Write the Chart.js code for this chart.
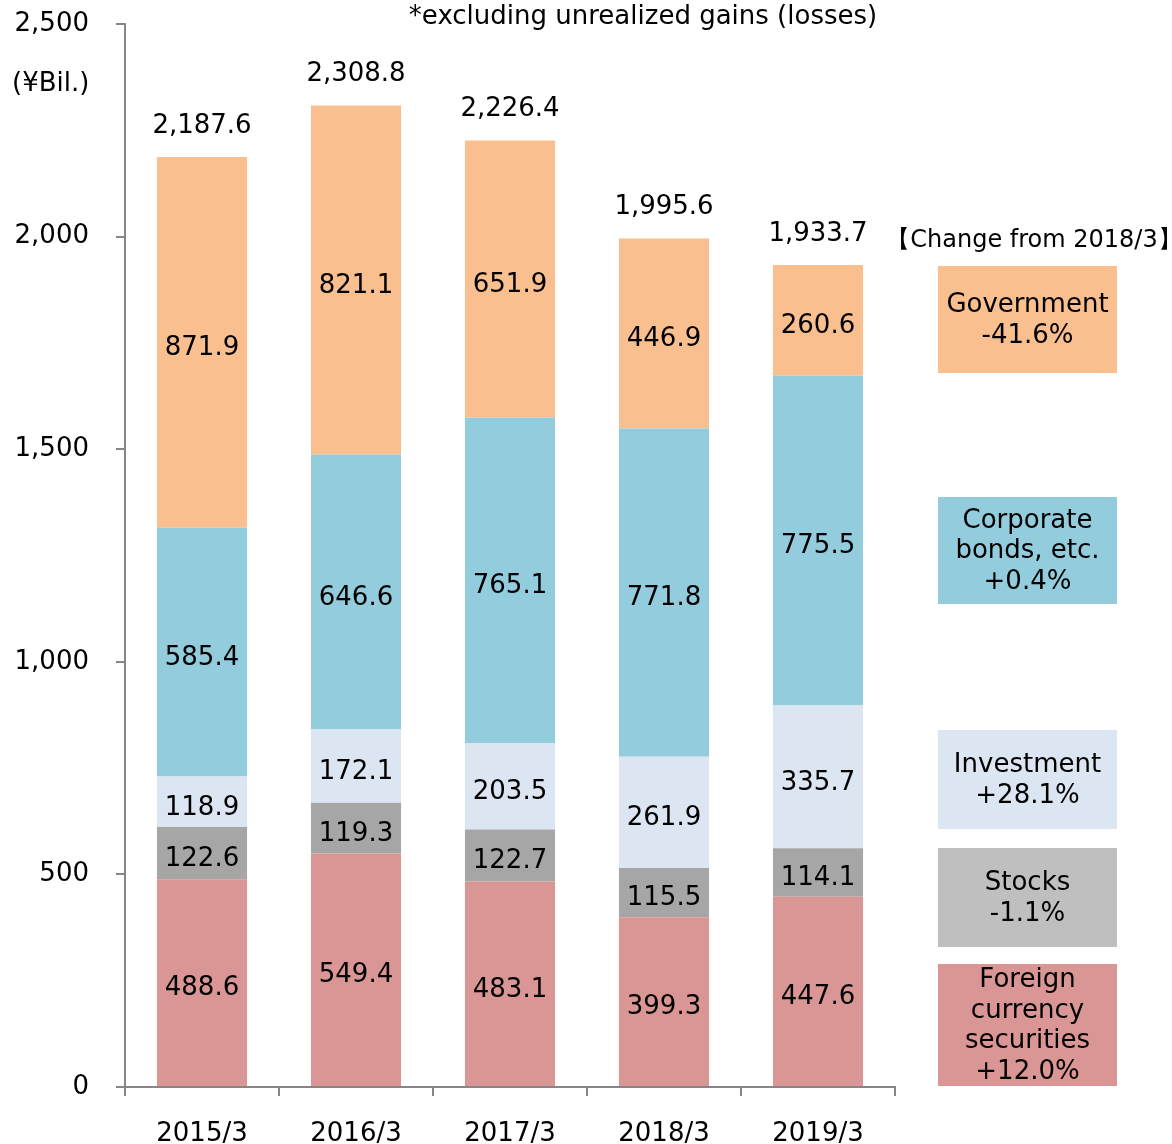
<!DOCTYPE html>
<html>
<head>
<meta charset="utf-8">
<script src="https://cdn.jsdelivr.net/npm/chart.js@4"></script>
<style>
  html, body { margin: 0; padding: 0; background: #fff; }
  #wrap { width: 1172px; height: 1144px; }
</style>
</head>
<body>
<div id="wrap"><canvas id="assetChart" width="1172" height="1144"></canvas></div>
<script>
const years = ['2015/3', '2016/3', '2017/3', '2018/3', '2019/3'];

// stacked bottom -> top
const foreign    = [488.6, 549.4, 483.1, 399.3, 447.6];
const stocks     = [122.6, 119.3, 122.7, 115.5, 114.1];
const investment = [118.9, 172.1, 203.5, 261.9, 335.7];
const corporate  = [585.4, 646.6, 765.1, 771.8, 775.5];
const government = [871.9, 821.1, 651.9, 446.9, 260.6];
const totals     = [2187.6, 2308.8, 2226.4, 1995.6, 1933.7];

const yTicks = [0, 500, 1000, 1500, 2000, 2500];

// right-hand boxes: change from 2018/3
const boxNames   = [['Government'], ['Corporate', 'bonds, etc.'], ['Investment'], ['Stocks'], ['Foreign', 'currency', 'securities']];
const boxChanges = ['-41.6%', '+0.4%', '+28.1%', '-1.1%', '+12.0%'];

const FONT = '"DejaVu Sans", Verdana, sans-serif';
const FS = 26;

const colors = {
    government: '#F9BF8F',
    corporate: '#93CDDD',
    investment: '#DCE6F2',
    stocks: '#A6A6A6',
    foreign: '#DA9694'
};

function fmt(v) {
    return v.toLocaleString('en-US', { minimumFractionDigits: 1, maximumFractionDigits: 1 });
}

// value labels inside segments + totals on top
const labelPlugin = {
    id: 'segLabels',
    afterDatasetsDraw(chart) {
        const ctx = chart.ctx;
        ctx.save();
        ctx.font = FS + 'px ' + FONT;
        ctx.fillStyle = '#000';
        ctx.textAlign = 'center';
        ctx.textBaseline = 'middle';
        chart.data.datasets.forEach((ds, i) => {
            const meta = chart.getDatasetMeta(i);
            meta.data.forEach((bar, j) => {
                const cy = (bar.y + bar.base) / 2;
                ctx.fillText(fmt(ds.data[j]), bar.x, cy + 6);
            });
        });
        const topMeta = chart.getDatasetMeta(chart.data.datasets.length - 1);
        topMeta.data.forEach((bar, j) => {
            ctx.fillText(fmt(totals[j]), bar.x, bar.y - 31);
        });
        ctx.restore();
    }
};

// notes and the boxes on the right
const notesPlugin = {
    id: 'notes',
    afterDraw(chart) {
        const ctx = chart.ctx;
        ctx.save();
        ctx.font = FS + 'px ' + FONT;
        ctx.fillStyle = '#000';
        ctx.textBaseline = 'middle';
        ctx.textAlign = 'left';
        ctx.fillText('(¥Bil.)', 12, 84);
        ctx.textAlign = 'center';
        ctx.fillText('*excluding unrealized gains (losses)', 643, 17);
        ctx.font = '24px ' + FONT;
        ctx.fillText('\u3010Change from 2018/3\u3011', 1034, 241);

        const boxes = [
            { y: 266, h: 107, fill: colors.government },
            { y: 497, h: 107, fill: colors.corporate },
            { y: 730, h: 99, fill: colors.investment },
            { y: 848, h: 99, fill: '#BFBFBF' },
            { y: 964, h: 122, fill: colors.foreign }
        ];
        const bx = 938, bw = 179, lh = 30.5;
        boxes.forEach((b, i) => {
            ctx.fillStyle = b.fill;
            ctx.fillRect(bx, b.y, bw, b.h);
            const lines = boxNames[i].concat([boxChanges[i]]);
            const cy = b.y + b.h / 2 + 1;
            const start = cy - (lines.length - 1) * lh / 2;
            ctx.fillStyle = '#000';
            ctx.font = FS + 'px ' + FONT;
            lines.forEach((t, k) => ctx.fillText(t, bx + bw / 2, start + k * lh));
        });
        ctx.restore();
    }
};

function init() {
    const ctx = document.getElementById('assetChart').getContext('2d');
    const mk = (label, data, color) => ({
        label: label,
        data: data,
        backgroundColor: color,
        borderWidth: 0,
        barPercentage: 0.585,
        categoryPercentage: 1.0
    });
    new Chart(ctx, {
        type: 'bar',
        data: {
            labels: years,
            datasets: [
                mk('Foreign currency securities', foreign, colors.foreign),
                mk('Stocks', stocks, colors.stocks),
                mk('Investment', investment, colors.investment),
                mk('Corporate bonds, etc.', corporate, colors.corporate),
                mk('Government', government, colors.government)
            ]
        },
        options: {
            responsive: false,
            animation: false,
            layout: { padding: { top: 24, right: 277, left: 0, bottom: 0 } },
            plugins: {
                legend: { display: false },
                tooltip: { enabled: false }
            },
            scales: {
                x: {
                    stacked: true,
                    afterFit(scale) {
                        scale.height = 57;
                        scale.paddingLeft = 0;
                        scale.paddingRight = 0;
                    },
                    border: { color: '#868686', width: 2 },
                    grid: { drawOnChartArea: false, drawTicks: true, tickLength: 9, color: '#868686', lineWidth: 2 },
                    ticks: { color: '#000', font: { family: FONT, size: FS }, padding: 23 }
                },
                y: {
                    stacked: true,
                    min: 0,
                    max: 2500,
                    afterBuildTicks(scale) {
                        scale.ticks = yTicks.map(v => ({ value: v }));
                    },
                    afterFit(scale) {
                        scale.width = 125;
                        scale.paddingTop = 0;
                        scale.paddingBottom = 0;
                    },
                    border: { color: '#868686', width: 2 },
                    grid: { drawOnChartArea: false, drawTicks: true, tickLength: 9, color: '#868686', lineWidth: 2 },
                    ticks: {
                        color: '#000',
                        font: { family: FONT, size: FS },
                        padding: 27,
                        callback: v => v.toLocaleString('en-US')
                    }
                }
            }
        },
        plugins: [labelPlugin, notesPlugin]
    });
}

window.onload = init;
</script>
</body>
</html>
